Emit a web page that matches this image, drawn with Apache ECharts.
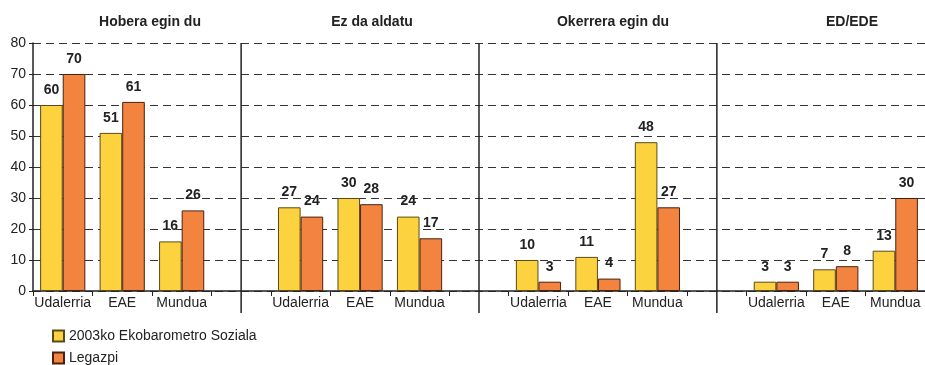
<!DOCTYPE html>
<html>
<head>
<meta charset="utf-8">
<script src="https://cdn.jsdelivr.net/npm/echarts@6/dist/echarts.min.js"></script>
<style>
  html, body { margin: 0; padding: 0; background: #fff; }
  #chart { width: 925px; height: 365px; }
</style>
</head>
<body>
<div id="chart"></div>
<script>
// Panels: each groups the same three places, separated by an empty slot
const panelTitles = ['Hobera egin du', 'Ez da aldatu', 'Okerrera egin du', 'ED/EDE'];
const places = ['Udalerria', 'EAE', 'Mundua'];

const seriesNames = ['2003ko Ekobarometro Soziala', 'Legazpi'];
// values per panel, in the order of `places`
const ekobarometro = [
  [60, 51, 16],
  [27, 30, 24],
  [10, 11, 48],
  [3, 7, 13]
];
const legazpi = [
  [70, 61, 26],
  [24, 28, 17],
  [3, 4, 27],
  [3, 8, 30]
];

const yTicks = { min: 0, max: 80, interval: 10 };

const FONT = "'Liberation Sans', Arial, sans-serif";
const TEXT = '#222';

// Flatten panels onto one category axis, with a blank slot between panels
const categories = [];
const dataA = [];
const dataB = [];
const gapIndex = [];
panelTitles.forEach((t, p) => {
  places.forEach((pl, i) => {
    categories.push(pl);
    dataA.push(ekobarometro[p][i]);
    dataB.push(legazpi[p][i]);
  });
  if (p < panelTitles.length - 1) {
    gapIndex.push(categories.length);
    categories.push('');
    dataA.push('-');
    dataB.push('-');
  }
});

const titleCenters = [145, 367, 608, 847];

const chart = echarts.init(document.getElementById('chart'), null, { renderer: 'canvas' });

const barLabel = {
  show: true,
  position: 'top',
  distance: 8,
  fontFamily: FONT,
  fontSize: 14,
  fontWeight: 'bold',
  color: TEXT
};

chart.setOption({
  animation: false,
  textStyle: { fontFamily: FONT },
  title: panelTitles.map((t, i) => ({
    text: t,
    left: titleCenters[i],
    top: 10,
    textAlign: 'center',
    textStyle: { fontFamily: FONT, fontSize: 14, fontWeight: 'bold', color: TEXT }
  })),
  legend: {
    orient: 'vertical',
    left: 52,
    top: 329,
    height: 60,
    padding: 0,
    itemWidth: 11,
    itemHeight: 11,
    itemGap: 8,
    icon: 'rect',
    data: seriesNames,
    textStyle: { fontFamily: FONT, fontSize: 14, color: TEXT }
  },
  grid: { left: 33, top: 43, width: categories.length * 60.4, height: 248, containLabel: false },
  xAxis: {
    type: 'category',
    data: categories,
    boundaryGap: true,
    axisLine: { show: true, lineStyle: { color: '#222', width: 1.5 } },
    axisTick: { show: true, interval: 0, length: 5, lineStyle: { color: '#222' } },
    axisLabel: { interval: 0, margin: 5, fontFamily: FONT, fontSize: 14, color: TEXT },
    splitLine: { show: false }
  },
  yAxis: {
    type: 'value',
    min: yTicks.min,
    max: yTicks.max,
    interval: yTicks.interval,
    axisLine: { show: true, lineStyle: { color: '#222', width: 1.5 } },
    axisTick: { show: true, length: 4, lineStyle: { color: '#222' } },
    axisLabel: { margin: 7, fontFamily: FONT, fontSize: 14, color: TEXT },
    splitLine: { show: true, lineStyle: { color: '#333', width: 1, type: [8, 5] } }
  },
  series: [
    {
      name: seriesNames[0],
      type: 'bar',
      data: dataA,
      barGap: '0%',
      barCategoryGap: '24%',
      itemStyle: { color: '#FDD23F', borderColor: '#5a4a1a', borderWidth: 1 },
      label: barLabel
    },
    {
      name: seriesNames[1],
      type: 'bar',
      data: dataB,
      barGap: '0%',
      barCategoryGap: '24%',
      itemStyle: { color: '#F2843F', borderColor: '#4a2210', borderWidth: 1 },
      label: barLabel
    },
    {
      // vertical separators between the panels
      type: 'custom',
      silent: true,
      clip: false,
      data: gapIndex.map(i => [i]),
      encode: { x: 0 },
      renderItem: function (params, api) {
        const top = api.coord([api.value(0), yTicks.max]);
        const bottom = api.coord([api.value(0), yTicks.min]);
        return {
          type: 'line',
          shape: { x1: top[0], y1: top[1], x2: bottom[0], y2: bottom[1] + 22 },
          style: { stroke: '#222', lineWidth: 1.5 }
        };
      }
    }
  ]
});
</script>
</body>
</html>
